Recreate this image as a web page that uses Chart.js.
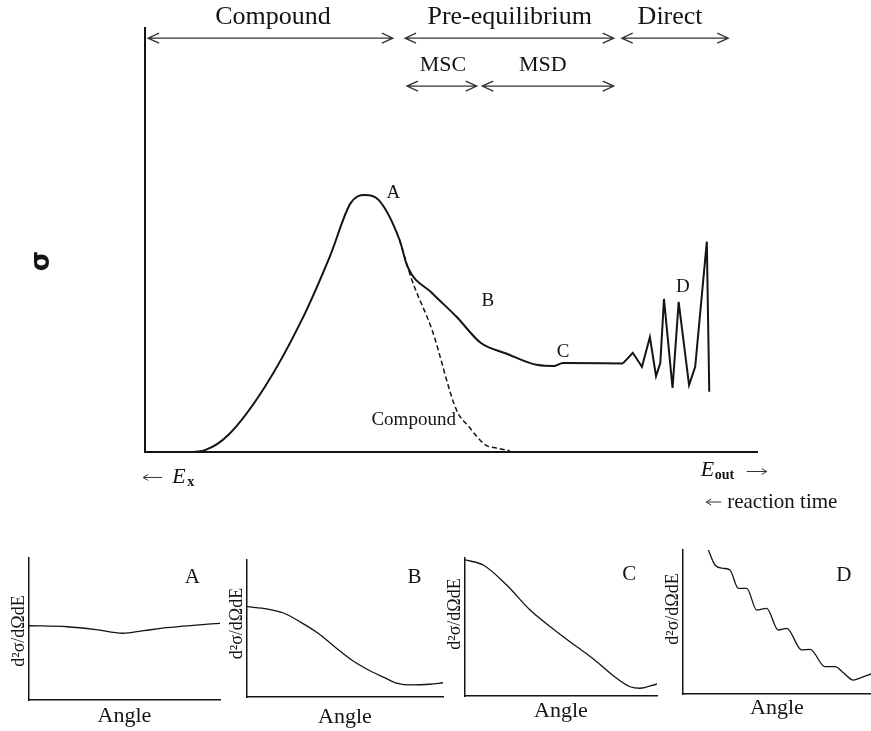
<!DOCTYPE html>
<html>
<head>
<meta charset="utf-8">
<script src="https://cdn.jsdelivr.net/npm/chart.js@4.4.0/dist/chart.umd.min.js"></script>
<style>
  body { margin: 0; background: #fff; }
  #wrap { position: relative; width: 871px; height: 731px; overflow: hidden; }
  canvas { position: absolute; }
</style>
</head>
<body>
<div id="wrap">
  <canvas id="main" width="871" height="530" style="left:0;top:0"></canvas>
  <canvas id="pA" width="235" height="191" style="left:0;top:540px"></canvas>
  <canvas id="pB" width="230" height="191" style="left:225px;top:540px"></canvas>
  <canvas id="pC" width="230" height="191" style="left:440px;top:540px"></canvas>
  <canvas id="pD" width="216" height="191" style="left:655px;top:540px"></canvas>
</div>
<script>
// Main spectrum: sigma vs outgoing energy (arbitrary units 0-100)
const mainX = [0, 7, 9.9, 13.6, 19.6, 25.6, 30.2, 33.6, 35.9, 38.2, 41.6, 42.9, 46.9, 50.9, 54.9, 58.9, 64.2, 66.9, 68.3, 78.1]
const mainY = [0, 0, 0.5, 4.0, 15.4, 31.1, 46.1, 58.7, 60.6, 59.4, 50.0, 43.7, 37.5, 31.9, 25.7, 23.3, 20.5, 20.3, 21.0, 20.9]

// discrete levels (direct reactions)
const directX = [78.1, 79.7, 81.2, 82.5, 83.5, 84.2, 84.8, 86.2, 87.2, 88.9, 89.9, 91.8, 92.2]
const directY = [20.9, 23.4, 20.1, 27.1, 17.9, 21.0, 36.1, 15.1, 35.4, 15.8, 20.1, 49.6, 14.2]

// compound-nucleus component (dashed)
const compoundX = [41.6, 43.6, 46.9, 50.9, 52.9, 55.6, 57.5, 59.6]
const compoundY = [50.0, 40.6, 28.8, 9.9, 6.0, 1.7, 0.9, 0.3]

// reaction regions along the energy axis
const regionNames = ['Compound', 'Pre-equilibrium', 'Direct']
const regionStart = [0.5, 42.5, 77.9]
const regionEnd = [40.5, 76.6, 95.3]
const regionLabelX = [20.9, 59.6, 85.8]
const subNames = ['MSC', 'MSD']
const subStart = [42.8, 55.1]
const subEnd = [54.2, 76.6]
const subLabelX = [48.7, 65.0]

// marked points on the spectrum
const pointNames = ['A', 'B', 'C', 'D']
const pointX = [40.6, 56.0, 68.3, 87.9]
const pointY = [61.0, 35.5, 23.6, 38.9]

// angular distributions for the points A-D
const angA = [0, 20, 35, 49, 60, 72, 86, 100]
const sigA = [52.3, 51.6, 49.6, 47.0, 48.8, 50.9, 52.6, 54.0]
const angB = [0, 10.2, 18.7, 27.5, 36.1, 44.7, 53.4, 62.0, 70.5, 75.8, 84.5, 93.1, 100]
const sigB = [65.9, 64.3, 61.3, 54.5, 46.7, 36.7, 27.0, 19.7, 13.9, 10.4, 8.8, 9.3, 10.4]
const angC = [0, 9.5, 21.7, 33.9, 51.2, 68.6, 79, 86, 91.1, 100]
const sigC = [98.6, 94.9, 80.4, 62.3, 43.0, 24.9, 12.8, 6.7, 5.6, 8.7]
const angD = [13.5, 17, 21.4, 25, 29.4, 33.9, 39.2, 44.5, 50.7, 55.2, 63.1, 67.6, 75.5, 80.9, 85.3, 90.6, 95.1, 100]
const sigD = [100, 89.6, 87.3, 86.1, 73.4, 73.4, 58.3, 59.5, 44.4, 45.6, 30.6, 31.0, 19.0, 19.0, 14.8, 9.7, 11.6, 13.9]
const panelLetterY = [86.6, 87.6, 87.7, 82.6]

const serif = '"Liberation Serif", "Times New Roman", serif'
const ink = '#141414'

const toPoints = (xs, ys) => xs.map((x, i) => ({ x, y: ys[i] }))

function hideAxis (min, max) {
  return {
    type: 'linear', min, max,
    grid: { display: false, drawTicks: false },
    ticks: { display: false },
    border: { display: true, color: ink, width: 2 }
  }
}

function arrow (ctx, x1, x2, y) {
  ctx.beginPath()
  ctx.moveTo(x1, y); ctx.lineTo(x2, y)
  ctx.moveTo(x1 + 11, y - 5); ctx.lineTo(x1, y); ctx.lineTo(x1 + 11, y + 5)
  ctx.moveTo(x2 - 11, y - 5); ctx.lineTo(x2, y); ctx.lineTo(x2 - 11, y + 5)
  ctx.stroke()
}

function text (ctx, str, x, y, font, align) {
  ctx.font = font
  ctx.textAlign = align || 'center'
  ctx.textBaseline = 'middle'
  ctx.fillText(str, x, y)
}

const mainLabels = {
  id: 'mainLabels',
  afterDraw (chart) {
    const { ctx, scales: { x, y } } = chart
    ctx.save()
    ctx.fillStyle = ink
    ctx.strokeStyle = '#333'
    ctx.lineWidth = 1.3

    regionNames.forEach((name, i) => {
      arrow(ctx, x.getPixelForValue(regionStart[i]), x.getPixelForValue(regionEnd[i]), y.getPixelForValue(97.6))
      text(ctx, name, x.getPixelForValue(regionLabelX[i]), y.getPixelForValue(102.5), '26px ' + serif)
    })
    subNames.forEach((name, i) => {
      arrow(ctx, x.getPixelForValue(subStart[i]), x.getPixelForValue(subEnd[i]), y.getPixelForValue(86.3))
      text(ctx, name, x.getPixelForValue(subLabelX[i]), y.getPixelForValue(91.2), '22px ' + serif)
    })
    pointNames.forEach((name, i) => {
      text(ctx, name, x.getPixelForValue(pointX[i]), y.getPixelForValue(pointY[i]), '19px ' + serif)
    })
    text(ctx, 'Compound', x.getPixelForValue(43.9), y.getPixelForValue(7.5), '19px ' + serif)

    // y axis symbol, rotated like an axis title
    ctx.save()
    ctx.translate(x.getPixelForValue(-16.8), y.getPixelForValue(45))
    ctx.rotate(-Math.PI / 2)
    text(ctx, 'σ', 0, 0, 'bold 26px "DejaVu Sans", sans-serif')
    ctx.restore()

    // energy labels under the axis
    const by = y.getPixelForValue(-6.0)
    const ex = x.getPixelForValue(-0.3)
    ctx.lineWidth = 1
    ctx.beginPath()
    ctx.moveTo(ex, by); ctx.lineTo(ex + 19, by)
    ctx.moveTo(ex + 5, by - 3); ctx.lineTo(ex, by); ctx.lineTo(ex + 5, by + 3)
    ctx.stroke()
    text(ctx, 'E', ex + 29, by, 'italic 22px ' + serif, 'left')
    text(ctx, 'x', ex + 44, by + 5, 'bold 14px ' + serif, 'left')

    const ox = x.getPixelForValue(90.8)
    const oy = y.getPixelForValue(-4.6)
    text(ctx, 'E', ox, oy - 1, 'italic 22px ' + serif, 'left')
    text(ctx, 'out', ox + 14, oy + 4, 'bold 14px ' + serif, 'left')
    ctx.beginPath()
    ctx.moveTo(ox + 46, oy); ctx.lineTo(ox + 66, oy)
    ctx.moveTo(ox + 61, oy - 3); ctx.lineTo(ox + 66, oy); ctx.lineTo(ox + 61, oy + 3)
    ctx.stroke()

    const rx = x.getPixelForValue(91.7)
    const ry = y.getPixelForValue(-11.8)
    ctx.beginPath()
    ctx.moveTo(rx, ry); ctx.lineTo(rx + 15, ry)
    ctx.moveTo(rx + 5, ry - 3); ctx.lineTo(rx, ry); ctx.lineTo(rx + 5, ry + 3)
    ctx.stroke()
    text(ctx, 'reaction time', rx + 21, ry, '21px ' + serif, 'left')
    ctx.restore()
  }
}

new Chart(document.getElementById('main'), {
  type: 'line',
  data: {
    datasets: [
      { data: toPoints(mainX, mainY), borderColor: ink, borderWidth: 2, pointRadius: 0, cubicInterpolationMode: 'monotone' },
      { data: toPoints(directX, directY), borderColor: ink, borderWidth: 2, pointRadius: 0, tension: 0 },
      { data: toPoints(compoundX, compoundY), borderColor: ink, borderWidth: 1.5, borderDash: [5, 3], pointRadius: 0, cubicInterpolationMode: 'monotone' }
    ]
  },
  options: {
    responsive: false,
    animation: false,
    layout: { padding: { left: 145, right: 114, top: 28, bottom: 78 } },
    scales: { x: hideAxis(0, 100), y: hideAxis(0, 100) },
    plugins: { legend: { display: false }, tooltip: { enabled: false } }
  },
  plugins: [mainLabels]
})

// small angular-distribution panels
const panels = [
  { id: 'pA', xs: angA, ys: sigA, pad: { left: 29, right: 15, top: 18, bottom: 31 }, labelShift: 2, angleGap: 16 },
  { id: 'pB', xs: angB, ys: sigB, pad: { left: 22, right: 12, top: 20, bottom: 34 }, labelShift: -5, angleGap: 20 },
  { id: 'pC', xs: angC, ys: sigC, pad: { left: 25, right: 13, top: 18, bottom: 35 }, labelShift: -13, angleGap: 15 },
  { id: 'pD', xs: angD, ys: sigD, pad: { left: 28, right: 0, top: 10, bottom: 37 }, labelShift: -13, angleGap: 14 }
]

panels.forEach((p, i) => {
  const panelLabels = {
    id: 'panelLabels' + i,
    afterDraw (chart) {
      const { ctx, chartArea: a, scales: { x, y } } = chart
      ctx.save()
      ctx.fillStyle = ink
      text(ctx, pointNames[i], x.getPixelForValue(85.5), y.getPixelForValue(panelLetterY[i]), '21px ' + serif)
      text(ctx, 'Angle', (a.left + a.right) / 2, a.bottom + p.angleGap, '22px ' + serif)
      ctx.translate(a.left - 10, (a.top + a.bottom) / 2 + p.labelShift)
      ctx.rotate(-Math.PI / 2)
      text(ctx, 'd²σ/dΩdE', 0, 0, '18px ' + serif)
      ctx.restore()
    }
  }
  const xAxis = hideAxis(0, 100)
  const yAxis = hideAxis(0, 100)
  xAxis.border.width = 1.5
  yAxis.border.width = 1.5
  new Chart(document.getElementById(p.id), {
    type: 'line',
    data: {
      datasets: [{ data: toPoints(p.xs, p.ys), borderColor: ink, borderWidth: 1.3, pointRadius: 0, cubicInterpolationMode: 'monotone' }]
    },
    options: {
      responsive: false,
      animation: false,
      layout: { padding: p.pad },
      scales: { x: xAxis, y: yAxis },
      plugins: { legend: { display: false }, tooltip: { enabled: false } }
    },
    plugins: [panelLabels]
  })
})
</script>
</body>
</html>
